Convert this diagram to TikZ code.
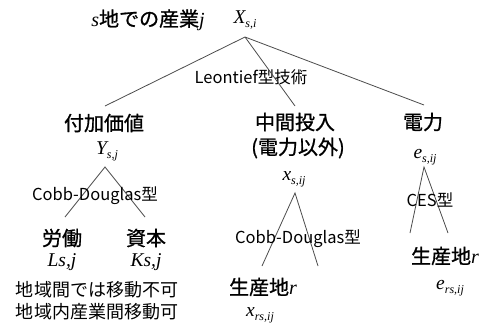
\documentclass[tikz,border=0pt]{standalone}
\usepackage{fontspec}
\setmainfont{Liberation Serif}
\newfontfamily\jp{Noto Sans CJK JP}
\newfontfamily\jpm{Noto Sans CJK JP}[FakeBold=0.9]
\newcommand\iv[1]{{\rmfamily\mdseries\itshape #1}}
\newcommand\vsub[2]{\iv{#1}\raisebox{-0.45ex}{\fontsize{12}{12}\selectfont\iv{#2}}}
\begin{document}
\begin{tikzpicture}[x=1pt,y=-1pt,
  line/.style={draw=black!70, line width=0.8pt},
  big/.style={font=\jpm\fontsize{20}{22}\selectfont, inner sep=0pt},
  small/.style={font=\jp\fontsize{16.5}{18}\selectfont, inner sep=0pt},
  note/.style={font=\jp\fontsize{18}{20}\selectfont, inner sep=0pt},
  var/.style={font=\rmfamily\fontsize{19.5}{20}\selectfont, inner sep=0pt}]
\useasboundingbox[fill=white] (0,0) rectangle (489,325);

% top
\node[big] (title) at (148,20) {\iv{s}地での産業\iv{j}};
\node[var] (X) at (245,20) {\vsub{X}{s,i}};
\node[small] (leo) at (251,77) {Leontief型技術};
\coordinate (a0) at (245,37);
\coordinate (b1) at (105,106);
\coordinate (b2) at (295,106);
\coordinate (b3) at (424,105);
\draw[line] (b1) -- (a0) -- (b3);
\draw[line] (a0) -- (b2);

% value added
\node[big] (fuka) at (104,123) {付加価値};
\node[var] (Y) at (107,151) {\vsub{Y}{s,j}};
\coordinate (c0) at (105,167);
\coordinate (c1) at (65,217);
\coordinate (c2) at (145,217);
\draw[line] (c1) -- (c0) -- (c2);
\node[small] (cd1) at (95,196) {Cobb-Douglas型};
\node[big] (rodo) at (62,238) {労働};
\node[big] (shihon) at (146,238) {資本};
\node[var] (L) at (62,262) {\iv{Ls,j}};
\node[var] (K) at (146,262) {\iv{Ks,j}};
\node[note] (n1) at (97,290) {地域間では移動不可};
\node[note] (n2) at (97,312) {地域内産業間移動可};

% intermediate
\node[big] (chukan) at (295,122) {中間投入};
\node[big] (igai) at (298,148) {(電力以外)};
\node[var] (x) at (294,179) {\vsub{x}{s,ij}};
\coordinate (d0) at (295,193);
\coordinate (d1) at (262,266);
\coordinate (d2) at (318,266);
\draw[line] (d1) -- (d0) -- (d2);
\node[small] (cd2) at (298,239) {Cobb-Douglas型};
\node[big] (seisan1) at (263,287) {生産地\iv{r}};
\node[var] (xrs) at (260,315) {\vsub{x}{rs,ij}};

% electricity
\node[big] (denryoku) at (423,122) {電力};
\node[var] (e) at (425,157) {\vsub{e}{s,ij}};
\coordinate (f0) at (424,167);
\coordinate (f1) at (410,233);
\coordinate (f2) at (448,233);
\draw[line] (f1) -- (f0) -- (f2);
\node[small] (ces) at (430,200) {CES型};
\node[big] (seisan2) at (445,256) {生産地\iv{r}};
\node[var] (ers) at (450,288) {\vsub{e}{rs,ij}};
\end{tikzpicture}
\end{document}
